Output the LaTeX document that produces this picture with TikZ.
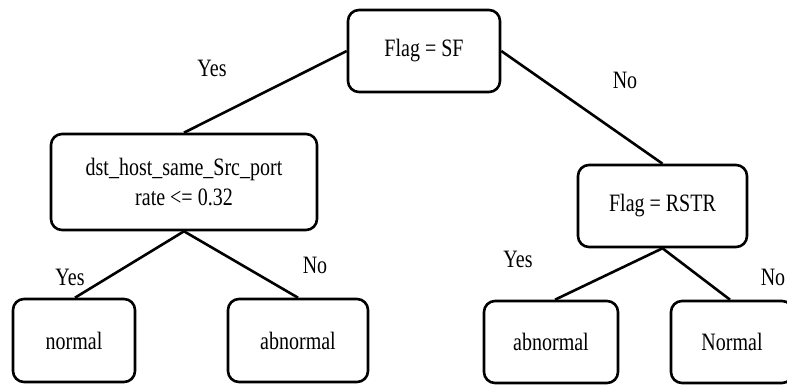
\documentclass[tikz,border=0pt]{standalone}
\usepackage{fontspec}
\setmainfont{Liberation Serif}[FakeStretch=0.8]
\begin{document}
\begin{tikzpicture}[x=1pt,y=-1pt,
  every node/.style={font=\fontsize{25}{30}\selectfont},
  testbox/.style={draw, line width=2.6pt, rounded corners=11pt, inner sep=0pt,
    align=center, minimum height=82pt},
  edge/.style={line width=2.6pt},
  lbl/.style={inner sep=0pt}]
\useasboundingbox (0,0) rectangle (787,385);
\clip (0,0) rectangle (787,385);

% decision nodes
\node[testbox, minimum width=152pt] (root) at (424,51) {Flag = SF};
\node[testbox, minimum width=266pt, minimum height=96pt] (dst) at (184,182)
  {dst\_host\_same\_Src\_port\\rate <= 0.32};
\node[testbox, minimum width=169pt] (rstr) at (662.5,206) {Flag = RSTR};

% leaves
\node[testbox, minimum width=122pt, minimum height=83pt] (n1) at (74,340.5) {normal};
\node[testbox, minimum width=140pt, minimum height=83pt] (a1) at (298,340.5) {abnormal};
\node[testbox, minimum width=134pt] (a2) at (551,342) {abnormal};
\node[testbox, minimum width=122pt] (n2) at (732,342) {Normal};

% branches
\draw[edge] (root.west) -- (dst.north);
\draw[edge] (root.east) -- (rstr.north);
\draw[edge] (dst.south) -- ([xshift=1pt]n1.north);
\draw[edge] (dst.south) -- (a1.north);
\draw[edge] (rstr.south) -- ([xshift=4pt]a2.north);
\draw[edge] (rstr.south) -- ([xshift=-2pt]n2.north);

% branch labels
\node[lbl] (y1) at (212,68) {Yes};
\node[lbl] (no1) at (625,80) {No};
\node[lbl] (y2) at (70,277) {Yes};
\node[lbl] (no2) at (315,265) {No};
\node[lbl] (y3) at (518,259) {Yes};
\node[lbl] (no3) at (773,277) {No};
\end{tikzpicture}
\end{document}
